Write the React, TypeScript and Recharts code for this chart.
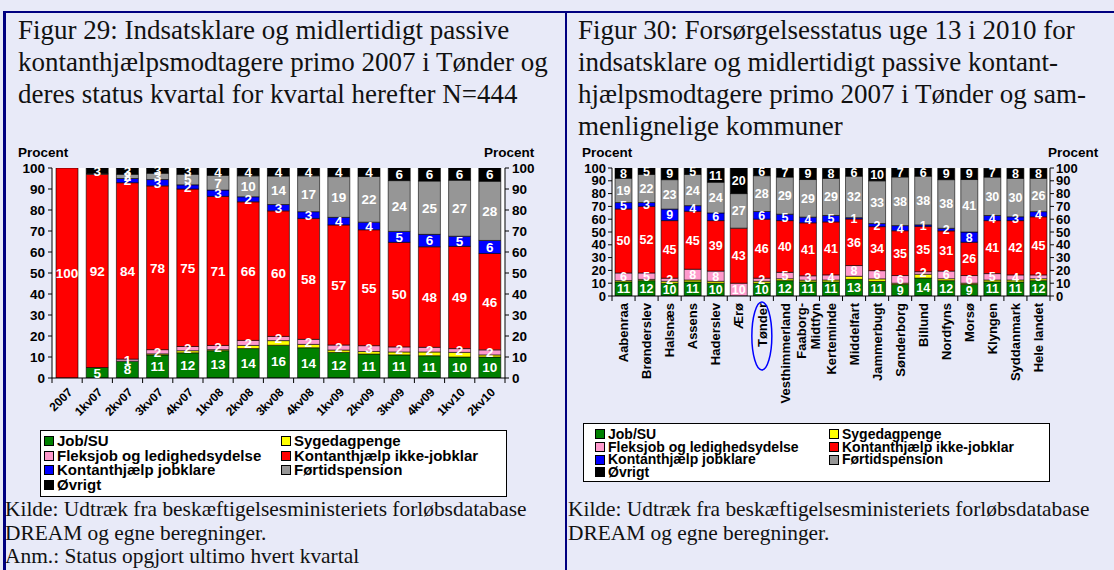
import React from 'react';
import { BarChart, Bar, XAxis, YAxis, LabelList } from 'recharts';

// ---------- Series definitions (stack order bottom -> top) ----------
const SERIES_KEYS = ['job', 'syg', 'fleks', 'ikke', 'jobklar', 'fortid', 'ovrigt'];
const SERIES_NAMES = [
  'Job/SU',
  'Sygedagpenge',
  'Fleksjob og ledighedsydelse',
  'Kontanthjælp ikke-jobklar',
  'Kontanthjælp jobklare',
  'Førtidspension',
  'Øvrigt',
];
const SERIES_COLORS = ['#008000', '#FFFF00', '#FF99CC', '#FF0000', '#0000FF', '#969696', '#000000'];
const SERIES_LABELLED = [true, false, true, true, true, true, true];

// ---------- Figur 29 ----------
const cat1 = ['2007', '1kv07', '2kv07', '3kv07', '4kv07', '1kv08', '2kv08', '3kv08', '4kv08', '1kv09', '2kv09', '3kv09', '4kv09', '1kv10', '2kv10'];
const job1 = [0, 5, 8, 11, 12, 13, 14, 15.6, 14.4, 12.2, 11.4, 11, 10.6, 10, 10];
const syg1 = [0, 0, 0, 0.5, 1, 0.5, 1.5, 2.2, 1.6, 1.1, 1.2, 1.4, 1.8, 2.2, 1];
const fleks1 = [0, 0, 1, 2, 2, 2, 2.4, 2, 2.4, 2.4, 2.8, 2.4, 2.2, 1.8, 2.4];
const ikke1 = [100, 92, 84, 78, 75, 71, 66, 59.8, 57.6, 57.2, 55.2, 49.8, 47.9, 48.7, 45.9];
const jobklar1 = [0, 0, 2, 3, 2, 3, 2.4, 3, 3.2, 3.6, 3.6, 5.2, 5.9, 4.8, 6.2];
const fortid1 = [0, 0.4, 2, 3, 5, 7, 10, 13.6, 17.1, 19.4, 21.8, 24.2, 25.4, 26.7, 28.2];
const ovrigt1 = [0, 2.6, 3, 2.5, 3, 3.5, 3.7, 3.8, 3.7, 4.1, 4, 6, 6.2, 5.8, 6.3];

// ---------- Figur 30 ----------
const cat2 = ['Aabenraa', 'Brønderslev', 'Halsnæs', 'Assens', 'Haderslev', 'Ærø', 'Tønder', 'Vesthimmerland', 'Faaborg-Midtfyn', 'Kerteminde', 'Middelfart', 'Jammerbugt', 'Sønderborg', 'Billund', 'Nordfyns', 'Morsø', 'Klyngen', 'Syddanmark', 'Hele landet'];
const job2 = [11, 12, 10, 11, 10, 0, 10, 12, 11, 11, 13, 11.4, 9, 14, 12, 9, 11, 11, 12];
const syg2 = [1, 1, 1.5, 1.5, 1.5, 0, 1.5, 1.5, 1.4, 1.5, 2.4, 2, 1, 3, 1.5, 1, 1.5, 1.5, 1.5];
const fleks2 = [6, 5, 2.4, 8.4, 8, 10, 2.4, 5, 3.4, 4, 8.4, 6.4, 6, 2, 6, 6, 5, 4, 3];
const ikke2 = [50, 52, 45, 45.3, 39.4, 43, 46.1, 40.4, 41.4, 41.4, 36.4, 34.4, 35, 35.4, 31.4, 26, 41.4, 42.4, 45.4];
const jobklar2 = [5, 3, 9, 4.4, 6, 0, 6, 5, 4.4, 5, 1, 2.4, 4, 1.2, 2, 8, 4, 3, 4];
const fortid2 = [19, 22, 23, 24.4, 24, 27, 28, 29, 29.4, 29, 32.4, 33.4, 38, 38, 38, 41, 30, 30, 26];
const ovrigt2 = [8, 5, 9.1, 5, 11, 20, 6, 7, 9, 8, 6.4, 10, 7, 6.4, 9, 9, 7, 8, 8];

const yTicks = [0, 10, 20, 30, 40, 50, 60, 70, 80, 90, 100];

function buildRows(cats: string[], cols: number[][]) {
  return cats.map((c, i) => {
    const row: any = { name: c };
    SERIES_KEYS.forEach((k, j) => {
      row[k] = cols[j][i];
    });
    return row;
  });
}

const data1 = buildRows(cat1, [job1, syg1, fleks1, ikke1, jobklar1, fortid1, ovrigt1]);
const data2 = buildRows(cat2, [job2, syg2, fleks2, ikke2, jobklar2, fortid2, ovrigt2]);

const SANS = '"Liberation Sans", Arial, Helvetica, sans-serif';
const SERIF = '"Liberation Serif", "Times New Roman", Times, serif';
const BG = '#E8EAF8';
const NAVY = '#000080';

// layout constants
const P1 = { left: 52, right: 505, top: 168, bottom: 378 };
const P2 = { left: 612, right: 1050, top: 168, bottom: 296 };
const BAND1 = (P1.right - P1.left) / cat1.length;
const BAND2 = (P2.right - P2.left) / cat2.length;

const makeLabel = (fontSize: number) => (props: any) => {
  const { x, y, width, height, value } = props;
  const v = Number(value);
  if (!isFinite(v) || v < 1) return null;
  const cx = Number(x) + Number(width) / 2;
  const cy = Number(y) + Number(height) / 2;
  return (
    <text
      x={cx}
      y={cy}
      dy="0.36em"
      textAnchor="middle"
      fill="#FFFFFF"
      fontWeight="bold"
      fontSize={fontSize}
      fontFamily={SANS}
    >
      {Math.round(v)}
    </text>
  );
};

const makeYTick = (fs: number) => (props: any) => {
  const { x, y, payload, textAnchor } = props;
  return (
    <text
      x={x}
      y={y}
      dy="0.36em"
      textAnchor={textAnchor}
      fontSize={fs}
      fontWeight="bold"
      fontFamily={SANS}
      fill="#000"
    >
      {payload.value}
    </text>
  );
};

const XTick1 = (props: any) => {
  const { x, y, payload, index } = props;
  const half = BAND1 / 2;
  return (
    <g>
      <line x1={x - half} x2={x - half} y1={y} y2={y + 5} stroke="#000" strokeWidth={1} />
      {index === cat1.length - 1 && (
        <line x1={x + half} x2={x + half} y1={y} y2={y + 5} stroke="#000" strokeWidth={1} />
      )}
      <text
        transform={`translate(${x + 6},${y + 15}) rotate(-45)`}
        textAnchor="end"
        fontSize={12}
        fontWeight="bold"
        fontFamily={SANS}
        fill="#000"
      >
        {payload.value}
      </text>
    </g>
  );
};

const XTick2 = (props: any) => {
  const { x, y, payload, index } = props;
  const half = BAND2 / 2;
  const label: string = String(payload.value);
  const hy = label.indexOf('-');
  const lines = hy > 0 && hy < label.length - 1 ? [label.slice(0, hy + 1), label.slice(hy + 1)] : [label];
  const fs = 13;
  return (
    <g>
      <line x1={x - half} x2={x - half} y1={y} y2={y + 5} stroke="#000" strokeWidth={1} />
      {index === cat2.length - 1 && (
        <line x1={x + half} x2={x + half} y1={y} y2={y + 5} stroke="#000" strokeWidth={1} />
      )}
      {lines.map((ln, i) => {
        const off = lines.length === 1 ? 0 : i === 0 ? -7 : 7;
        return (
          <text
            key={i}
            transform={`translate(${x + off},${y + 7}) rotate(-90)`}
            textAnchor="end"
            dy="0.36em"
            fontSize={fs}
            fontWeight="bold"
            fontFamily={SANS}
            fill="#000"
          >
            {ln}
          </text>
        );
      })}
      {label === 'Tønder' && (
        <ellipse cx={x} cy={y + 40} rx={10} ry={34} fill="none" stroke="#0000FF" strokeWidth={1.5} />
      )}
    </g>
  );
};

function LegendBox(props: {
  left: number;
  top: number;
  width: number;
  height: number;
  rowH: number;
  firstTop: number;
  col1: number;
  col2: number;
  fontSize: number;
}) {
  const { left, top, width, height, rowH, firstTop, col1, col2, fontSize } = props;
  return (
    <div
      style={{
        position: 'absolute',
        left,
        top,
        width,
        height,
        background: '#FFFFFF',
        border: '1px solid #000',
        boxSizing: 'border-box',
      }}
    >
      {SERIES_NAMES.map((n, i) => {
        const col = i % 2;
        const row = Math.floor(i / 2);
        return (
          <div
            key={n}
            style={{
              position: 'absolute',
              left: col === 0 ? col1 : col2,
              top: firstTop + row * rowH,
              height: rowH,
              display: 'flex',
              alignItems: 'center',
              whiteSpace: 'nowrap',
              fontFamily: SANS,
              fontWeight: 'bold',
              fontSize,
              lineHeight: `${rowH}px`,
              color: '#000',
            }}
          >
            <span
              style={{
                display: 'inline-block',
                width: 8,
                height: 8,
                background: SERIES_COLORS[i],
                border: '1px solid #000',
                marginRight: 3,
              }}
            />
            {n}
          </div>
        );
      })}
    </div>
  );
}

const textStyle = (left: number, top: number, size: number, lh: number): React.CSSProperties => ({
  position: 'absolute',
  left,
  top,
  fontFamily: SERIF,
  fontSize: size,
  lineHeight: `${lh}px`,
  color: '#111',
  whiteSpace: 'nowrap',
});

const procentStyle = (left: number, top: number): React.CSSProperties => ({
  position: 'absolute',
  left,
  top,
  fontFamily: SANS,
  fontWeight: 'bold',
  fontSize: 13.5,
  lineHeight: '15px',
  color: '#000',
});

export default function App() {
  const yTick1 = makeYTick(13.5);
  const yTick2 = makeYTick(13);
  const label1 = makeLabel(13.5);
  const label2 = makeLabel(12.5);

  const W1 = 566;
  const H1 = 430;
  const W2 = 548;
  const H2 = 404;
  const X2 = 566;

  return (
    <div style={{ position: 'absolute', left: 0, top: 0, width: 1114, height: 570, background: BG, overflow: 'hidden' }}>
      {/* frame lines */}
      <div style={{ position: 'absolute', left: 3, top: 11, width: 1111, height: 2, background: NAVY }} />
      <div style={{ position: 'absolute', left: 3, top: 11, width: 3, height: 559, background: NAVY }} />
      <div style={{ position: 'absolute', left: 565, top: 11, width: 2, height: 559, background: NAVY }} />

      {/* titles */}
      <div style={textStyle(18, 14, 27, 32)}>
        Figur 29: Indsatsklare og midlertidigt passive
        <br />
        kontanthjælpsmodtagere primo 2007 i Tønder og
        <br />
        deres status kvartal for kvartal herefter N=444
      </div>
      <div style={textStyle(578, 14, 27, 32)}>
        Figur 30: Forsørgelsesstatus uge 13 i 2010 for
        <br />
        indsatsklare og midlertidigt passive kontant-
        <br />
        hjælpsmodtagere primo 2007 i Tønder og sam-
        <br />
        menlignelige kommuner
      </div>

      <div style={procentStyle(18, 145)}>Procent</div>
      <div style={procentStyle(484, 145)}>Procent</div>
      <div style={procentStyle(582, 145)}>Procent</div>
      <div style={procentStyle(1048, 145)}>Procent</div>

      {/* Figur 29 chart */}
      <div style={{ position: 'absolute', left: 0, top: 0 }}>
        <BarChart
          width={W1}
          height={H1}
          data={data1}
          margin={{ top: P1.top, left: P1.left - 40, right: W1 - P1.right - 40, bottom: H1 - P1.bottom - 50 }}
          barSize={22}
        >
          <rect x={P1.left} y={P1.top} width={P1.right - P1.left} height={P1.bottom - P1.top} fill="#FFFFFF" />
          <XAxis
            dataKey="name"
            interval={0}
            height={50}
            tickLine={false}
            tickSize={0}
            tickMargin={0}
            axisLine={{ stroke: '#000' }}
            tick={<XTick1 />}
          />
          <YAxis
            yAxisId="l"
            domain={[0, 100]}
            ticks={yTicks}
            interval={0}
            allowDataOverflow
            width={40}
            tickSize={4}
            tickMargin={3}
            axisLine={{ stroke: '#000' }}
            tickLine={{ stroke: '#000' }}
            tick={yTick1}
          />
          <YAxis
            yAxisId="r"
            orientation="right"
            domain={[0, 100]}
            ticks={yTicks}
            interval={0}
            allowDataOverflow
            width={40}
            tickSize={4}
            tickMargin={3}
            axisLine={{ stroke: '#000' }}
            tickLine={{ stroke: '#000' }}
            tick={yTick1}
          />
          {SERIES_KEYS.map((k, i) => (
            <Bar
              key={k}
              dataKey={k}
              name={SERIES_NAMES[i]}
              stackId="s"
              yAxisId="l"
              fill={SERIES_COLORS[i]}
              stroke="#000"
              strokeWidth={0.6}
              isAnimationActive={false}
            >
              {SERIES_LABELLED[i] && <LabelList dataKey={k} content={label1} />}
            </Bar>
          ))}
        </BarChart>
      </div>

      {/* Figur 30 chart */}
      <div style={{ position: 'absolute', left: X2, top: 0 }}>
        <BarChart
          width={W2}
          height={H2}
          data={data2}
          margin={{ top: P2.top, left: P2.left - X2 - 36, right: X2 + W2 - P2.right - 36, bottom: H2 - P2.bottom - 100 }}
          barSize={17}
        >
          <rect x={P2.left - X2} y={P2.top} width={P2.right - P2.left} height={P2.bottom - P2.top} fill="#FFFFFF" />
          <XAxis
            dataKey="name"
            interval={0}
            height={100}
            tickLine={false}
            tickSize={0}
            tickMargin={0}
            axisLine={{ stroke: '#000' }}
            tick={<XTick2 />}
          />
          <YAxis
            yAxisId="l"
            domain={[0, 100]}
            ticks={yTicks}
            interval={0}
            allowDataOverflow
            width={36}
            tickSize={4}
            tickMargin={2}
            axisLine={{ stroke: '#000' }}
            tickLine={{ stroke: '#000' }}
            tick={yTick2}
          />
          <YAxis
            yAxisId="r"
            orientation="right"
            domain={[0, 100]}
            ticks={yTicks}
            interval={0}
            allowDataOverflow
            width={36}
            tickSize={4}
            tickMargin={2}
            axisLine={{ stroke: '#000' }}
            tickLine={{ stroke: '#000' }}
            tick={yTick2}
          />
          {SERIES_KEYS.map((k, i) => (
            <Bar
              key={k}
              dataKey={k}
              name={SERIES_NAMES[i]}
              stackId="s"
              yAxisId="l"
              fill={SERIES_COLORS[i]}
              stroke="#000"
              strokeWidth={0.6}
              isAnimationActive={false}
            >
              {SERIES_LABELLED[i] && <LabelList dataKey={k} content={label2} />}
            </Bar>
          ))}
        </BarChart>
      </div>

      {/* legends */}
      <LegendBox left={40} top={430} width={467} height={67} rowH={14.6} firstTop={3} col1={3} col2={240} fontSize={15} />
      <LegendBox left={583} top={423} width={467} height={59} rowH={12.7} firstTop={4} col1={11} col2={245} fontSize={14} />

      {/* sources */}
      <div style={textStyle(5, 498, 21.4, 23.5)}>
        Kilde: Udtræk fra beskæftigelsesministeriets forløbsdatabase
        <br />
        DREAM og egne beregninger.
        <br />
        Anm.: Status opgjort ultimo hvert kvartal
      </div>
      <div style={textStyle(568, 498, 21.4, 23.5)}>
        Kilde: Udtræk fra beskæftigelsesministeriets forløbsdatabase
        <br />
        DREAM og egne beregninger.
      </div>
    </div>
  );
}
